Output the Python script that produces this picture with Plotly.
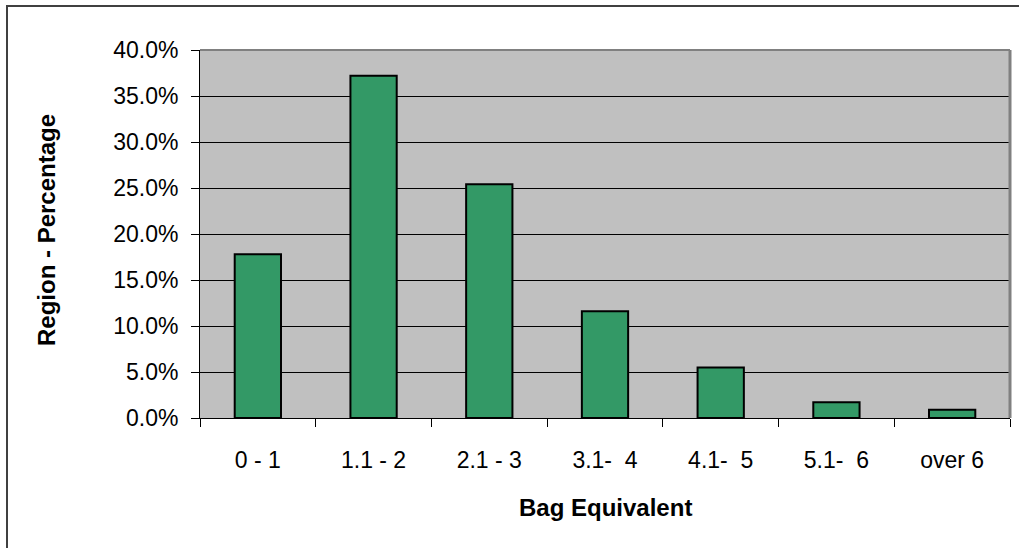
import plotly.graph_objects as go

categories = ["0 - 1", "1.1 - 2", "2.1 - 3", "3.1-\u00a0 4", "4.1-\u00a0 5", "5.1-\u00a0 6", "over 6"]
values = [0.178, 0.372, 0.254, 0.116, 0.055, 0.017, 0.009]
y_ticks = [0, 0.05, 0.10, 0.15, 0.20, 0.25, 0.30, 0.35, 0.40]
x_title = "Bag Equivalent"
y_title = "Region - Percentage"

FONT = "Liberation Sans, Arial, sans-serif"
TICK_SIZE = 23
TITLE_SIZE = 24

fig = go.Figure()
fig.add_trace(go.Bar(
    x=categories, y=values,
    marker=dict(color="#339966", line=dict(color="#000000", width=2)),
    width=0.4,
))

fig.update_layout(
    width=1019, height=548,
    margin=dict(l=200, r=9, t=50, b=130),
    paper_bgcolor="#FFFFFF",
    plot_bgcolor="#C0C0C0",
    showlegend=False,
    font=dict(family=FONT, size=TICK_SIZE, color="#000000"),
    bargap=0.6,
)
fig.update_xaxes(
    type="category",
    showline=True, linecolor="#000000", linewidth=1,
    ticks="outside", ticklen=8, tickcolor="#000000", tickwidth=1,
    tickson="boundaries",
    showgrid=False,
    ticklabelstandoff=21,
    tickfont=dict(family=FONT, size=TICK_SIZE),
)
fig.update_yaxes(
    range=[0, 0.40],
    tickvals=y_ticks,
    tickformat=".1%",
    showline=True, linecolor="#000000", linewidth=1,
    ticks="outside", ticklen=8, tickcolor="#000000", tickwidth=1,
    showgrid=True, gridcolor="#000000", gridwidth=1,
    zeroline=False,
    ticklabelstandoff=8,
    tickfont=dict(family=FONT, size=TICK_SIZE),
)

# plot-area border (gray on top/right)
fig.add_shape(type="line", xref="paper", yref="paper", x0=0, x1=1, y0=1, y1=1,
              line=dict(color="#808080", width=2))
fig.add_shape(type="line", xref="paper", yref="paper", x0=1, x1=1, y0=0, y1=1,
              line=dict(color="#808080", width=3))
# outer chart border
fig.add_shape(type="rect", xref="paper", yref="paper",
              x0=(7 - 200) / 810, x1=(1040 - 200) / 810,
              y0=(418 - 6) / 368, y1=(418 - 580) / 368,
              line=dict(color="#404040", width=2), layer="below")

fig.add_annotation(text=f"<b>{x_title}</b>", xref="paper", yref="paper",
                   x=0.5, y=(418 - 507) / 368, showarrow=False,
                   font=dict(family=FONT, size=TITLE_SIZE), xanchor="center", yanchor="middle")
fig.add_annotation(text=f"<b>{y_title}</b>", xref="paper", yref="paper",
                   x=(47 - 200) / 810, y=(418 - 230) / 368, showarrow=False, textangle=-90,
                   font=dict(family=FONT, size=TITLE_SIZE), xanchor="center", yanchor="middle")

fig.write_html(
    "out.html",
    config={"displayModeBar": False},
    post_script="document.body.style.margin='0';document.body.style.overflow='hidden';"
                "document.documentElement.style.overflow='hidden';",
)
